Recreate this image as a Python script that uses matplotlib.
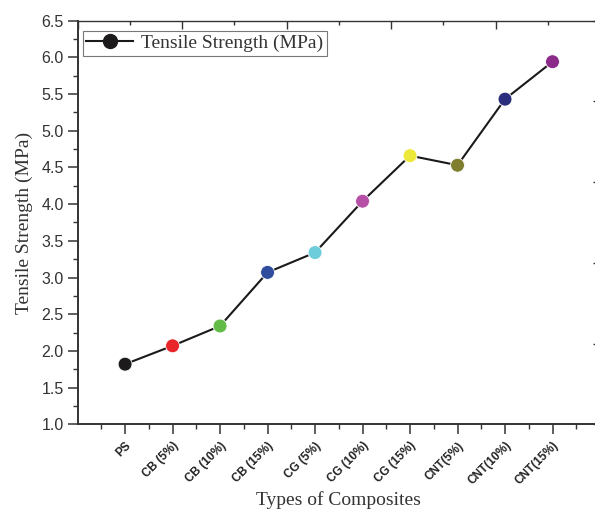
import numpy as np
import matplotlib
matplotlib.use("Agg")
import matplotlib.pyplot as plt
from matplotlib.ticker import MultipleLocator
from matplotlib.lines import Line2D

CATEGORIES = ["PS", "CB (5%)", "CB (10%)", "CB (15%)", "CG (5%)", "CG (10%)",
              "CG (15%)", "CNT(5%)", "CNT(10%)", "CNT(15%)"]
TENSILE = [1.82, 2.07, 2.34, 3.07, 3.34, 4.04, 4.66, 4.53, 5.43, 5.94]
COLORS = ["#1c1a1b", "#e8262a", "#62bb46", "#2f4c9d", "#6dcddb", "#b64fa6",
          "#ece93a", "#7f7d2e", "#2a2d7c", "#8b2a89"]

INK = "#333333"
SERIF = "Liberation Serif"
SANS = "Liberation Sans"

fig = plt.figure(figsize=(5.95, 5.15), dpi=100)
ax = fig.add_axes([0.1304, 0.176, 1.0084 - 0.1304, 0.960 - 0.176])

x = np.arange(1, len(CATEGORIES) + 1)
ax.plot(x, TENSILE, color="#1a1a1a", lw=1.5, zorder=2)
ax.scatter(x, TENSILE, s=100, c=COLORS, edgecolors="white", linewidths=0.6, zorder=3)

ax.set_xlim(0, 11)
ax.set_ylim(1.0, 6.5)
ax.set_xticks(x)
ax.set_xticklabels(CATEGORIES, rotation=45, ha="right", rotation_mode="anchor",
                   fontsize=8.5, fontweight="bold", family=SANS, color="#222222")
ax.set_xticks(np.arange(0.5, 11, 1.0), minor=True)
ax.set_yticks(np.arange(1.0, 6.51, 0.5))
ax.set_yticklabels([f"{v:.1f}" for v in np.arange(1.0, 6.51, 0.5)], family=SANS)
ax.set_yticks(np.arange(1.25, 6.5, 0.5), minor=True)
ax.tick_params(axis="y", labelsize=11.5, labelcolor=INK, pad=3)
ax.tick_params(which="major", length=7, width=1.1, color=INK, direction="out")
ax.tick_params(which="minor", length=3.5, width=1.0, color=INK, direction="out")
ax.tick_params(axis="x", which="major", pad=4)

for side in ["left", "bottom"]:
    ax.spines[side].set_linewidth(1.4)
    ax.spines[side].set_color(INK)
ax.spines["top"].set_linewidth(1.0)
ax.spines["top"].set_color(INK)
ax.spines["right"].set_visible(False)

# top and right secondary scales (tick marks only)
top = ax.twiny()
top.set_xlim(0, 5)
top.xaxis.set_major_locator(MultipleLocator(1))
top.xaxis.set_minor_locator(MultipleLocator(0.5))
top.tick_params(axis="x", which="major", direction="in", length=6, width=1.0, color=INK, labeltop=False)
top.tick_params(axis="x", which="minor", direction="in", length=3, width=1.0, color=INK)
right = ax.twinx()
right.set_ylim(0, 5)
right.yaxis.set_major_locator(MultipleLocator(1))
right.yaxis.set_minor_locator(MultipleLocator(0.5))
right.tick_params(axis="y", which="major", direction="in", length=5, width=1.0, color=INK, labelright=False)
right.tick_params(axis="y", which="minor", direction="in", length=3, width=0.6, color="#bbbbbb")
for a in (top, right):
    for s in a.spines.values():
        s.set_visible(False)

ax.set_xlabel("Types of Composites", family=SERIF, fontsize=14, color=INK, labelpad=3)
ax.set_ylabel("Tensile Strength (MPa)", family=SERIF, fontsize=14, color=INK, labelpad=6)

handle = Line2D([], [], color="#1a1a1a", lw=1.5, marker="o", markersize=10,
                markerfacecolor="#1c1a1b", markeredgecolor="#1c1a1b")
leg = ax.legend([handle], ["Tensile Strength (MPa)"], loc="upper left",
                bbox_to_anchor=(0.0096, 0.975), borderaxespad=0, frameon=True,
                fancybox=False, edgecolor="#777777", framealpha=1, borderpad=0.2,
                handlelength=2.4, handletextpad=0.4,
                prop={"family": SERIF, "size": 14}, labelcolor=INK)
leg.get_frame().set_linewidth(0.8)

fig.savefig("out.png", dpi=100)
